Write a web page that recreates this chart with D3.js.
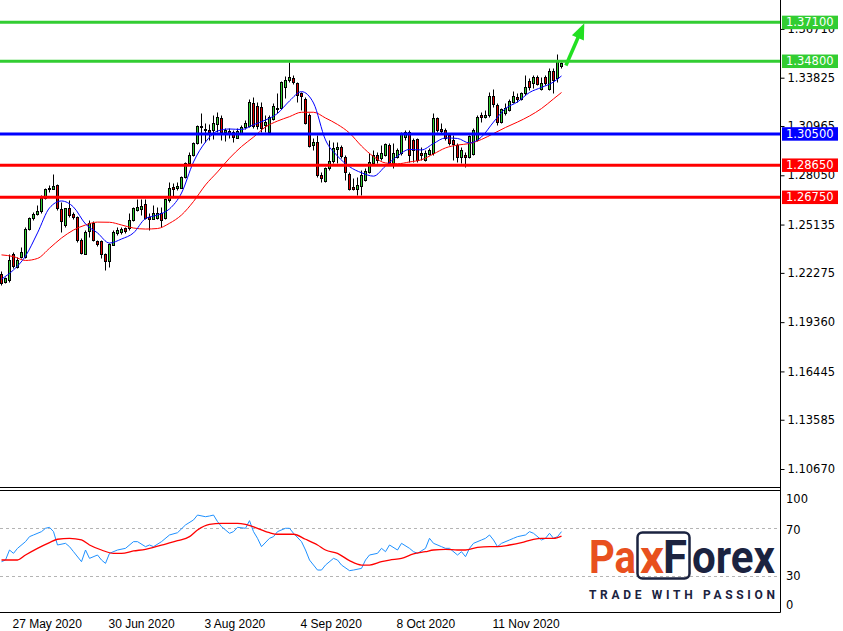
<!DOCTYPE html>
<html><head><meta charset="utf-8">
<script src="https://cdn.jsdelivr.net/npm/d3@7"></script>
<style>
body{margin:0;background:#fff;}
svg{display:block;font-family:"DejaVu Sans",Verdana,sans-serif;}
</style></head><body>
<svg id="chart" width="843" height="631"></svg>
<script>
// ---------------- DATA ----------------
const opens  = [1.2219,1.2175,1.2186,1.2337,1.2264,1.2317,1.2323,1.2487,1.2551,1.2574,1.2590,1.2672,1.2732,1.2728,1.2748,1.2606,1.2511,1.2610,1.2574,1.2560,
1.2422,1.2343,1.2471,1.2521,1.2416,1.2416,1.2337,1.2294,1.2397,1.2465,1.2465,1.2491,1.2491,1.2541,1.2604,1.2604,1.2635,1.2560,1.2551,1.2556,
1.2584,1.2551,1.2659,1.2738,1.2728,1.2734,1.2797,1.2880,1.2925,1.2994,1.3089,1.3077,1.3073,1.3069,1.3109,1.3146,1.3060,1.3067,1.3060,1.3028,
1.3060,1.3087,1.3099,1.3231,1.3217,1.3211,1.3099,1.3063,1.3142,1.3205,1.3201,1.3329,1.3369,1.3383,1.3349,1.3290,1.3257,1.3162,1.2980,1.3000,
1.2807,1.2771,1.2846,1.2886,1.2959,1.2971,1.2915,1.2813,1.2734,1.2722,1.2742,1.2777,1.2826,1.2876,1.2925,1.2906,1.2925,1.2984,1.2876,1.2915,
1.2935,1.3033,1.3063,1.3014,1.3018,1.2939,1.2896,1.2931,1.2935,1.3142,1.3077,1.3073,1.3043,1.3014,1.2984,1.2915,1.2925,1.2911,1.2931,1.3014,
1.3162,1.3152,1.3162,1.3274,1.3221,1.3122,1.3172,1.3191,1.3241,1.3270,1.3261,1.3290,1.3365,1.3355,1.3388,1.3320,1.3388,1.3320,1.3424,1.3381,1.3448];
const highs  = [1.2239,1.2205,1.2339,1.2349,1.2322,1.2383,1.2499,1.2560,1.2590,1.2629,1.2688,1.2732,1.2748,1.2811,1.2752,1.2649,1.2613,1.2659,1.2588,1.2566,
1.2432,1.2481,1.2541,1.2535,1.2422,1.2422,1.2343,1.2403,1.2481,1.2501,1.2499,1.2499,1.2580,1.2619,1.2663,1.2663,1.2663,1.2580,1.2629,1.2619,
1.2619,1.2669,1.2767,1.2761,1.2767,1.2803,1.2886,1.2945,1.3004,1.3103,1.3172,1.3113,1.3109,1.3162,1.3181,1.3162,1.3083,1.3083,1.3073,1.3083,
1.3103,1.3132,1.3257,1.3270,1.3241,1.3241,1.3162,1.3162,1.3231,1.3290,1.3363,1.3394,1.3474,1.3398,1.3359,1.3300,1.3268,1.3172,1.3028,1.3043,
1.2826,1.2856,1.3014,1.3004,1.3004,1.2984,1.2925,1.2825,1.2787,1.2797,1.2836,1.2846,1.2935,1.2955,1.2945,1.2984,1.2996,1.2994,1.2994,1.2965,
1.3063,1.3073,1.3073,1.3024,1.3024,1.2974,1.2955,1.2967,1.3175,1.3152,1.3113,1.3083,1.3054,1.3043,1.2994,1.2974,1.2945,1.3043,1.3083,1.3162,
1.3181,1.3191,1.3300,1.3314,1.3231,1.3201,1.3231,1.3257,1.3306,1.3290,1.3300,1.3398,1.3379,1.3398,1.3398,1.3388,1.3398,1.3438,1.3438,1.3523,1.3476];
const lows   = [1.2156,1.2166,1.2175,1.2255,1.2257,1.2314,1.2317,1.2481,1.2541,1.2570,1.2580,1.2665,1.2708,1.2724,1.2600,1.2471,1.2501,1.2560,1.2546,1.2412,
1.2337,1.2339,1.2442,1.2416,1.2387,1.2314,1.2245,1.2264,1.2393,1.2452,1.2458,1.2464,1.2481,1.2535,1.2596,1.2570,1.2545,1.2481,1.2546,1.2545,
1.2497,1.2545,1.2649,1.2678,1.2718,1.2728,1.2791,1.2876,1.2919,1.2990,1.2994,1.3004,1.3014,1.3018,1.3063,1.3014,1.3008,1.3024,1.3000,1.3024,
1.3054,1.3079,1.3093,1.3087,1.3079,1.3063,1.3063,1.3057,1.3132,1.3172,1.3197,1.3261,1.3359,1.3343,1.3241,1.3191,1.3107,1.2972,1.2955,1.2797,
1.2767,1.2765,1.2836,1.2880,1.2876,1.2906,1.2777,1.2718,1.2718,1.2688,1.2688,1.2771,1.2817,1.2866,1.2876,1.2896,1.2919,1.2866,1.2846,1.2907,
1.2925,1.3014,1.2886,1.2886,1.2886,1.2896,1.2890,1.2925,1.2925,1.3063,1.3054,1.3014,1.2984,1.2896,1.2886,1.2880,1.2856,1.2906,1.2925,1.3008,
1.3122,1.3142,1.3152,1.3207,1.3103,1.3116,1.3162,1.3186,1.3231,1.3241,1.3251,1.3280,1.3310,1.3320,1.3339,1.3310,1.3339,1.3310,1.3290,1.3359,1.3440];
const closes = [1.2166,1.2197,1.2304,1.2264,1.2304,1.2349,1.2487,1.2551,1.2574,1.2594,1.2669,1.2724,1.2724,1.2743,1.2610,1.2535,1.2610,1.2566,1.2554,1.2422,
1.2343,1.2471,1.2521,1.2422,1.2397,1.2337,1.2294,1.2397,1.2471,1.2481,1.2485,1.2471,1.2541,1.2610,1.2619,1.2623,1.2551,1.2548,1.2584,1.2584,
1.2545,1.2663,1.2728,1.2728,1.2742,1.2797,1.2880,1.2925,1.2998,1.3097,1.3097,1.3069,1.3063,1.3113,1.3148,1.3063,1.3073,1.3054,1.3028,1.3067,
1.3093,1.3113,1.3241,1.3093,1.3099,1.3087,1.3119,1.3152,1.3217,1.3197,1.3355,1.3369,1.3388,1.3359,1.3280,1.3270,1.3113,1.2980,1.3000,1.2807,
1.2791,1.2846,1.2890,1.2965,1.2971,1.2915,1.2826,1.2722,1.2722,1.2748,1.2807,1.2832,1.2886,1.2925,1.2896,1.2935,1.2990,1.2876,1.2935,1.2955,
1.3054,1.3063,1.2925,1.2955,1.2896,1.2925,1.2939,1.2955,1.3142,1.3073,1.3063,1.3024,1.2994,1.2990,1.2915,1.2955,1.2911,1.3038,1.3073,1.3152,
1.3152,1.3162,1.3274,1.3227,1.3122,1.3196,1.3201,1.3246,1.3274,1.3261,1.3294,1.3326,1.3329,1.3388,1.3349,1.3353,1.3353,1.3424,1.3369,1.3487,1.3468];

// moving averages, sampled on the picture every third bar
const maBars = [0,3,6,9,12,15,18,21,24,27,30,33,36,39,42,45,48,51,54,57,60,63,66,69,72,75,78,81,84,87,90,93,96,99,102,105,108,111,114,117,120,123,126,129,132,135,138,140];
const maFast = [1.2191,1.2245,1.2327,1.2464,1.2612,1.2653,1.2617,1.2517,1.2464,1.2404,1.2428,1.2464,1.2549,1.2570,1.2606,1.2700,1.2884,1.3002,1.3067,1.3079,
1.3076,1.3104,1.3132,1.3171,1.3245,1.3300,1.3233,1.3014,1.2919,1.2856,1.2820,1.2800,1.2860,1.2919,1.2958,1.2955,1.2993,1.3026,1.3023,1.2996,
1.3032,1.3120,1.3200,1.3239,1.3295,1.3325,1.3357,1.3393];
const maSlow = [1.2334,1.2324,1.2301,1.2313,1.2373,1.2434,1.2481,1.2511,1.2528,1.2527,1.2511,1.2493,1.2487,1.2490,1.2521,1.2570,1.2650,1.2748,1.2825,1.2906,
1.2975,1.3031,1.3091,1.3126,1.3152,1.3178,1.3178,1.3144,1.3106,1.3055,1.2978,1.2916,1.2878,1.2873,1.2884,1.2897,1.2931,1.2967,1.2984,1.2993,
1.3017,1.3052,1.3088,1.3120,1.3156,1.3200,1.3257,1.3295];

// horizontal levels
const levelValues = [1.37100,1.34800,1.30500,1.28650,1.26750];
const levelKinds  = ["green","green","blue","red","red"];

// arrow (bar index, price)
const arrowBars   = [141.1,145.7];
const arrowPrices = [1.3455,1.3705];

// price axis tick labels
const priceTicks = [1.36710,1.33825,1.30965,1.28050,1.25135,1.22275,1.19360,1.16445,1.13585,1.10670];

// RSI (blue) and its signal (red)
const rsiBars = [0,1,2,3,4,6,7,8,10,11,12,13,14,16,17,18,20,21,22,24,25,26,27,29,31,33,34,36,37,38,40,42,44,46,48,49,51,52,53,54,55,57,58,59,61,62,63,64,65,67,68,69,71,72,73,75,76,77,79,80,81,83,84,85,87,88,90,91,92,94,95,96,97,99,100,102,103,104,106,107,108,110,111,112,114,115,116,117,118,120,121,122,123,124,125,127,128,129,131,132,133,135,136,137,138,139,140];
const rsiVals = [42.0,43.4,51.8,49.0,53.2,58.8,63.0,64.4,67.2,70.0,70.8,67.2,56.0,57.4,54.6,50.4,42.0,51.8,44.8,47.6,43.4,40.6,49.0,51.8,53.2,58.8,58.8,54.6,56.0,54.6,58.8,64.4,66.3,72.8,77.0,81.1,79.7,80.3,81.1,75.6,71.4,65.8,67.2,70.8,70.0,76.4,67.2,61.6,54.6,61.6,63.0,67.2,70.0,70.0,65.8,58.8,51.8,43.4,35.0,35.0,39.2,44.8,43.4,39.2,34.5,35.0,36.4,43.4,47.6,49.0,53.2,50.4,56.0,51.8,57.4,53.2,50.4,49.0,53.2,61.6,57.4,54.6,53.2,53.2,47.6,50.4,46.2,53.2,57.4,60.2,61.6,64.4,60.2,54.6,57.4,60.2,61.6,63.0,64.4,67.2,65.8,60.2,61.6,65.8,61.6,63.0,67.2];
const sigBars = [0,4,6,9,12,14,17,20,22,25,28,30,33,36,38,41,44,47,49,52,55,59,61,64,67,69,73,76,79,81,84,87,90,92,95,97,100,103,106,108,111,114,116,119,122,124,127,130,133,135,138,140];
const sigVals = [43.4,43.4,47.6,53.2,58.0,60.8,61.6,60.2,56.0,51.8,49.0,49.0,51.0,52.4,54.0,56.8,59.6,63.0,68.6,73.3,74.2,74.2,73.3,70.0,66.3,65.0,65.0,60.8,56.0,51.8,49.0,42.9,39.2,39.2,42.0,43.4,44.8,48.5,50.4,51.8,52.4,51.8,51.8,54.0,54.6,54.6,56.0,58.0,60.8,61.6,61.6,63.5];
const rsiTicks = [100,70,30,0];
const rsiLevels = [70,30];

// time axis
const dateBars   = [2,26,50,74,98,122];
const dateLabels = ["27 May 2020","30 Jun 2020","3 Aug 2020","4 Sep 2020","8 Oct 2020","11 Nov 2020"];

// ---------------- DRAWING ----------------
const svg = d3.select("#chart");
const plotRight = 780, mainBottom = 487.5, rsiTop = 490.5, rsiBottom = 612.5;
const colors = {green:"#32cd32", blue:"#0000ff", red:"#ff0000"};
const bull = "#32cd32", bear = "#e00000";

const x = d3.scaleLinear().domain([0,140]).range([1.5,561.5]);
const y = d3.scaleLinear().domain([1.10670,1.33825]).range([469,77.7]);
const yr = d3.scaleLinear().domain([0,100]).range([611.8,492.5]);

const defs = svg.append("defs");
defs.append("clipPath").attr("id","clipMain").append("rect").attr("x",0).attr("y",0).attr("width",plotRight).attr("height",mainBottom);
defs.append("clipPath").attr("id","clipRsi").append("rect").attr("x",0).attr("y",rsiTop).attr("width",plotRight).attr("height",rsiBottom-rsiTop);

svg.append("rect").attr("width",843).attr("height",631).attr("fill","#fff");

// candles
const gMain = svg.append("g").attr("clip-path","url(#clipMain)");
const idx = d3.range(closes.length);
const crisp = v => Math.round(v)+0.5;
gMain.selectAll("line.wick").data(idx).join("line").attr("class","wick")
  .attr("x1",i=>x(i)).attr("x2",i=>x(i))
  .attr("y1",i=>crisp(y(highs[i]))).attr("y2",i=>crisp(y(lows[i])))
  .attr("stroke","#000").attr("stroke-width",1);
gMain.selectAll("rect.body").data(idx).join("rect").attr("class","body")
  .attr("x",i=>x(i)-1).attr("width",2)
  .attr("y",i=>crisp(y(Math.max(opens[i],closes[i]))))
  .attr("height",i=>Math.max(1,Math.round(y(Math.min(opens[i],closes[i]))-y(Math.max(opens[i],closes[i])))))
  .attr("fill",i=>closes[i]>=opens[i]?bull:bear)
  .attr("stroke","#000").attr("stroke-width",1);

// moving averages
const maLine = d3.line().x(d=>x(d[0])).y(d=>y(d[1])).curve(d3.curveMonotoneX);
gMain.append("path").attr("d",maLine(maBars.map((b,k)=>[b,maSlow[k]])))
  .attr("fill","none").attr("stroke","#ff0000").attr("stroke-width",1);
gMain.append("path").attr("d",maLine(maBars.map((b,k)=>[b,maFast[k]])))
  .attr("fill","none").attr("stroke","#0000ff").attr("stroke-width",1);

// horizontal levels
gMain.selectAll("line.level").data(levelValues).join("line").attr("class","level")
  .attr("x1",0).attr("x2",plotRight)
  .attr("y1",v=>y(v)).attr("y2",v=>y(v))
  .attr("stroke",(v,k)=>colors[levelKinds[k]]).attr("stroke-width",3);

// arrow
(function(){
  const x0=x(arrowBars[0]), y0=y(arrowPrices[0]), x1=x(arrowBars[1]), y1=y(arrowPrices[1]);
  const dx=x1-x0, dy=y1-y0, len=Math.hypot(dx,dy), ux=dx/len, uy=dy/len;
  const hl=16, hw=6.5;
  const bx=x1-ux*hl, by=y1-uy*hl;
  gMain.append("line").attr("x1",x0).attr("y1",y0).attr("x2",bx+ux*2).attr("y2",by+uy*2)
    .attr("stroke","#22e022").attr("stroke-width",3.5);
  gMain.append("path").attr("d",`M${x1},${y1}L${bx-uy*hw},${by+ux*hw}L${bx+uy*hw},${by-ux*hw}Z`)
    .attr("fill","#22e022");
})();

// frames
svg.append("line").attr("x1",0).attr("x2",plotRight+0.5).attr("y1",mainBottom).attr("y2",mainBottom).attr("stroke","#000");
svg.append("line").attr("x1",0).attr("x2",plotRight+0.5).attr("y1",rsiTop).attr("y2",rsiTop).attr("stroke","#000");
svg.append("line").attr("x1",0).attr("x2",plotRight+0.5).attr("y1",rsiBottom).attr("y2",rsiBottom).attr("stroke","#000");
svg.append("line").attr("x1",plotRight+0.5).attr("x2",plotRight+0.5).attr("y1",0).attr("y2",rsiBottom).attr("stroke","#000");

// price axis
const yAxis = d3.axisRight(y).tickValues(priceTicks).tickFormat(d3.format(".5f")).tickSize(4).tickPadding(3);
const gY = svg.append("g").attr("transform",`translate(${plotRight+0.5},0)`).call(yAxis);
gY.select(".domain").remove();
gY.selectAll("text").attr("font-size",11.5).attr("font-family","DejaVu Sans, Verdana, sans-serif").attr("fill","#000");
gY.selectAll("line").attr("stroke","#000");

// level value boxes
const gBox = svg.append("g");
levelValues.forEach((v,k)=>{
  gBox.append("rect").attr("x",plotRight+2).attr("y",y(v)-6.7).attr("width",56).attr("height",13.5)
    .attr("fill",colors[levelKinds[k]]);
  gBox.append("text").attr("x",plotRight+6).attr("y",y(v)).attr("dy","0.36em")
    .attr("font-size",11.5).attr("fill","#fff").text(d3.format(".5f")(v));
});

// RSI panel
const gR = svg.append("g").attr("clip-path","url(#clipRsi)");
gR.selectAll("line.rl").data(rsiLevels).join("line").attr("class","rl")
  .attr("x1",0).attr("x2",plotRight).attr("y1",v=>Math.round(yr(v))+0.5).attr("y2",v=>Math.round(yr(v))+0.5)
  .attr("stroke","#b4b4b4").attr("stroke-dasharray","3,3");
const rLine = d3.line().x(d=>x(d[0])).y(d=>yr(d[1]));
gR.append("path").attr("d",rLine(rsiBars.map((b,k)=>[b,rsiVals[k]])))
  .attr("fill","none").attr("stroke","#1e90ff").attr("stroke-width",1);
gR.append("path").attr("d",d3.line().x(d=>x(d[0])).y(d=>yr(d[1])).curve(d3.curveMonotoneX)(sigBars.map((b,k)=>[b,sigVals[k]])))
  .attr("fill","none").attr("stroke","#ff0000").attr("stroke-width",1.3);

const rsiLabelShift = {100:6, 70:2, 30:0, 0:-7};
svg.selectAll("text.rt").data(rsiTicks).join("text").attr("class","rt")
  .attr("x",plotRight+6).attr("y",v=>yr(v)+rsiLabelShift[v]).attr("dy","0.36em")
  .attr("font-size",11.5).attr("fill","#000").text(v=>v);

// time axis
const xAxis = d3.axisBottom(x).tickValues(dateBars).tickFormat((d,k)=>dateLabels[k]).tickSize(0).tickPadding(0);
const gX = svg.append("g").attr("transform",`translate(0,${rsiBottom})`).call(xAxis);
gX.select(".domain").remove();
gX.selectAll("line").remove();
gX.selectAll("text").attr("text-anchor","start").attr("dx","2.5").attr("dy","0").attr("y",15)
  .attr("font-size",12).attr("fill","#000");

// logo
const navy = "#1b2340", orange = "#e8501e";
const gL = svg.append("g").attr("font-family","Roboto, 'Open Sans', sans-serif").attr("font-weight",700);
gL.append("text").attr("x",589).attr("y",573).attr("font-size",47).attr("fill",orange)
  .attr("textLength",47).attr("lengthAdjust","spacingAndGlyphs").text("Pa");
gL.append("rect").attr("x",637.5).attr("y",532.5).attr("width",52).attr("height",46).attr("rx",5)
  .attr("fill","none").attr("stroke",navy).attr("stroke-width",2.5);
gL.append("text").attr("x",640).attr("y",573).attr("font-size",47).attr("fill",orange)
  .attr("textLength",24).attr("lengthAdjust","spacingAndGlyphs").text("x");
gL.append("text").attr("x",663).attr("y",573).attr("font-size",47).attr("fill",navy)
  .attr("textLength",24).attr("lengthAdjust","spacingAndGlyphs").text("F");
gL.append("text").attr("x",692).attr("y",573).attr("font-size",47).attr("fill",navy)
  .attr("textLength",83).attr("lengthAdjust","spacingAndGlyphs").text("orex");
gL.append("text").attr("x",589).attr("y",598.5).attr("font-size",12).attr("fill",navy)
  .attr("textLength",186).attr("lengthAdjust","spacing").text("TRADE WITH PASSION");
</script>
</body></html>
